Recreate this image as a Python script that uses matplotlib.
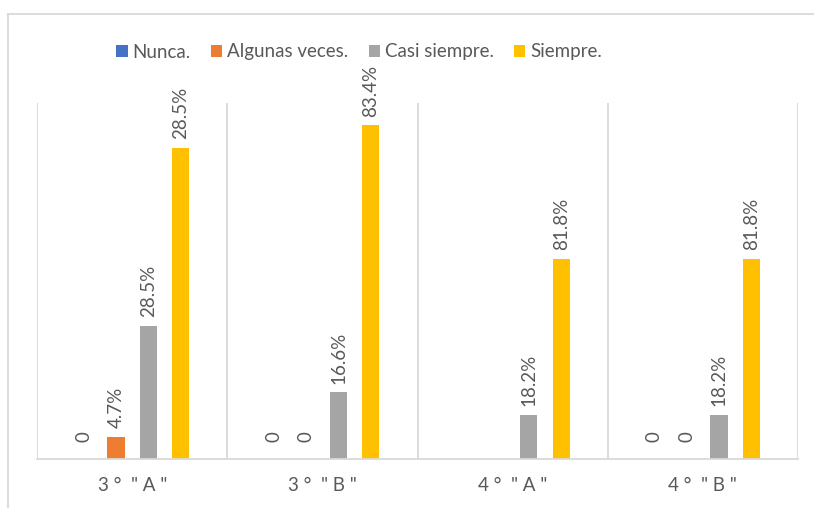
import numpy as np
import matplotlib
matplotlib.use('Agg')
import matplotlib.pyplot as plt
from matplotlib.lines import Line2D

# data: counts per group (bar heights) and the printed labels
groups = ['3 °  " A "', '3 °  " B "', '4 °  " A "', '4 °  " B "']
series = ['Nunca.', 'Algunas veces.', 'Casi siempre.', 'Siempre.']
nunca = [0, 0, np.nan, 0]
algunas = [1, 0, np.nan, 0]
casi = [6, 3, 2, 2]
siempre = [14, 15, 9, 9]
nunca_labels = ['0', '0', '', '0']
algunas_labels = ['4.7%', '0', '', '0']
casi_labels = ['28.5%', '16.6%', '18.2%', '18.2%']
siempre_labels = ['28.5%', '83.4%', '81.8%', '81.8%']

colors = ['#4472C4', '#ED7D31', '#A5A5A5', '#FFC000']
text_color = '#595959'
grid_color = '#D9D9D9'

plt.rcParams['font.family'] = ['Lato', 'DejaVu Sans']

W, H = 814, 508
fig = plt.figure(figsize=(W / 100, H / 100), dpi=100)
ax = fig.add_axes([37 / W, 1 - 459 / H, (798 - 37) / W, (459 - 103) / H])

x = np.arange(len(groups))
step = 0.17
width = 0.09
values = [nunca, algunas, casi, siempre]
labels = [nunca_labels, algunas_labels, casi_labels, siempre_labels]
for i, (vals, labs) in enumerate(zip(values, labels)):
    offset = (i - 1.5) * step
    bars = ax.bar(x + offset, vals, width, color=colors[i], label=series[i], zorder=2)
    # zero labels sit a bit higher above the axis than the others
    plain = [lab if lab != '0' else '' for lab in labs]
    zeros = [lab if lab == '0' else '' for lab in labs]
    ax.bar_label(bars, labels=plain, rotation=90, padding=6, fontsize=13.5, color=text_color)
    ax.bar_label(bars, labels=zeros, rotation=90, padding=12, fontsize=13.5, color=text_color)

ax.set_xlim(-0.5, 3.5)
ax.set_ylim(0, 16)
ax.set_yticks([])
ax.set_xticks(x)
ax.set_xticklabels(groups, fontsize=13.5, color=text_color)
ax.tick_params(axis='x', length=0, pad=13)
ax.set_xticks(np.arange(-0.5, 4, 1), minor=True)
ax.tick_params(axis='x', which='minor', length=0)
ax.grid(axis='x', which='minor', color=grid_color, linewidth=1.3, zorder=0)
for side in ['top', 'left', 'right']:
    ax.spines[side].set_visible(False)
ax.spines['bottom'].set_color(grid_color)
ax.spines['bottom'].set_linewidth(1.3)

fig.legend(loc='center', bbox_to_anchor=(359 / W, 1 - 52 / H), ncol=4, frameon=False,
           fontsize=13.5, labelcolor=text_color, handlelength=0.6, handleheight=0.6,
           handletextpad=0.25, columnspacing=1.1)

# outer chart frame (only top and left edges are visible)
fig.add_artist(Line2D([8 / W, 8 / W], [0, 1 - 14 / H], color=grid_color, linewidth=1.3))
fig.add_artist(Line2D([8 / W, 1], [1 - 14 / H, 1 - 14 / H], color=grid_color, linewidth=1.3))

fig.savefig('out.png', dpi=100)
